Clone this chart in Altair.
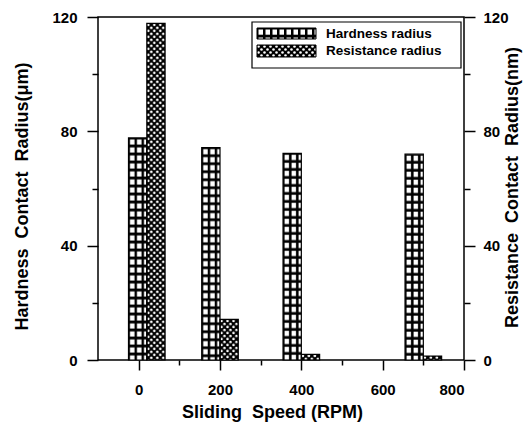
import urllib.parse

import altair as alt
import pandas as pd

# Sliding speeds (RPM) and the two contact radii measured at each speed
SPEEDS = [20, 200, 400, 700]
HARDNESS = [77.7, 74.3, 72.3, 72.0]      # Hardness contact radius (um)
RESISTANCE = [117.8, 14.2, 2.0, 1.4]     # Resistance contact radius (nm)
SERIES = ["Hardness radius", "Resistance radius"]

X_TICKS = [0, 200, 400, 600, 800]
X_MINOR = [100, 300, 500, 700]
Y_TICKS = [0, 40, 80, 120]
Y_MINOR = [20, 60, 100]

BAR_W = 45          # bar width in RPM
FONT = "Liberation Sans"
GAP = " \u00a0"     # wide word gap that SVG does not collapse


def pattern_url(tile_w, tile_h, body):
    """SVG tile pattern wrapped as a data URL, used to hatch the bars."""
    svg = (
        '<svg xmlns="http://www.w3.org/2000/svg" width="100%" height="100%">'
        f'<defs><pattern id="p" x="0" y="0" width="{tile_w}" height="{tile_h}" '
        f'patternUnits="userSpaceOnUse">{body}</pattern></defs>'
        '<rect width="100%" height="100%" fill="url(#p)"/></svg>'
    )
    return "data:image/svg+xml;charset=utf-8," + urllib.parse.quote(svg)


GRID = pattern_url(
    7, 8,
    '<rect width="7" height="8" fill="black"/>'
    '<rect x="1.5" y="1.5" width="4.5" height="5.2" fill="white"/>',
)
CROSS = pattern_url(
    6, 6,
    '<rect width="6" height="6" fill="black"/>'
    '<circle cx="1.5" cy="1.5" r="1.3" fill="white"/>'
    '<circle cx="4.5" cy="4.5" r="1.3" fill="white"/>',
)

df = pd.DataFrame({"speed": SPEEDS, "hardness": HARDNESS, "resistance": RESISTANCE})

x_scale = alt.Scale(domain=[-100, 800], nice=False, zero=False)
y_scale = alt.Scale(domain=[0, 120], nice=False)

label_style = dict(labelFont=FONT, labelFontSize=15, labelFontWeight="bold",
                   labelColor="black", tickColor="black", tickWidth=1.5,
                   domain=False, grid=False)
title_style = dict(titleFont=FONT, titleFontSize=18, titleFontWeight="bold",
                   titleColor="black")

x_major = alt.Axis(orient="bottom", values=X_TICKS, tickSize=10, labelPadding=12,
                   title=f"Sliding{GAP}Speed (RPM)", titleX=174, titleY=57,
                   titleBaseline="alphabetic", titleAlign="center",
                   **label_style, **title_style)
x_minor = alt.Axis(orient="bottom", values=X_MINOR, tickSize=5, labels=False,
                   title=None, **label_style)
y_left = alt.Axis(orient="left", values=Y_TICKS, tickSize=11, labelPadding=10,
                  title=f"Hardness{GAP}Contact{GAP}Radius(\u03bcm)", titleAngle=270,
                  titleX=-76, titleY=179, titleAlign="center", titleBaseline="middle",
                  **label_style, **title_style)
y_left_minor = alt.Axis(orient="left", values=Y_MINOR, tickSize=6, labels=False,
                        title=None, **label_style)
y_right = alt.Axis(orient="right", values=Y_TICKS, tickSize=11, labelPadding=8,
                   title=f"Resistance{GAP}Contact{GAP}Radius(nm)", titleAngle=270,
                   titleX=48, titleY=170, titleAlign="center", titleBaseline="middle",
                   **label_style, **title_style)
y_right_minor = alt.Axis(orient="right", values=Y_MINOR, tickSize=6, labels=False,
                         title=None, **label_style)

base = alt.Chart(df).transform_calculate(
    h_left=f"datum.speed - {BAR_W}",
    r_right=f"datum.speed + {BAR_W}",
)

# Hardness bars: left of each speed, left axis
hard_fill = base.mark_image(aspect=False).encode(
    x=alt.X("h_left:Q", scale=x_scale, axis=x_major),
    x2="speed:Q",
    y=alt.Y("hardness:Q", scale=y_scale, axis=y_left),
    y2=alt.datum(0),
    url=alt.value(GRID),
)
hard_edge = base.mark_bar(fillOpacity=0, stroke="black", strokeWidth=1.2).encode(
    x=alt.X("h_left:Q", scale=x_scale, axis=None),
    x2="speed:Q",
    y=alt.Y("hardness:Q", scale=y_scale, axis=None),
    y2=alt.datum(0),
)

# Resistance bars: right of each speed, right axis
res_fill = base.mark_image(aspect=False).encode(
    x=alt.X("speed:Q", scale=x_scale, axis=x_minor),
    x2="r_right:Q",
    y=alt.Y("resistance:Q", scale=y_scale, axis=y_right),
    y2=alt.datum(0),
    url=alt.value(CROSS),
)
res_edge = base.mark_bar(fillOpacity=0, stroke="black", strokeWidth=1.2).encode(
    x=alt.X("speed:Q", scale=x_scale, axis=None),
    x2="r_right:Q",
    y=alt.Y("resistance:Q", scale=y_scale, axis=None),
    y2=alt.datum(0),
)

# Invisible layers carrying the minor ticks on both y axes
minor_left = base.mark_point(opacity=0).encode(
    x=alt.X("speed:Q", scale=x_scale, axis=None),
    y=alt.Y("hardness:Q", scale=y_scale, axis=y_left_minor),
)
minor_right = base.mark_point(opacity=0).encode(
    x=alt.X("speed:Q", scale=x_scale, axis=None),
    y=alt.Y("resistance:Q", scale=y_scale, axis=y_right_minor),
)

# Legend box in the upper right of the plot
legend_df = pd.DataFrame({"series": SERIES})
legend_box = alt.Chart(legend_df.head(1)).mark_rect(
    fill="white", stroke="black", strokeWidth=1.2
).encode(x=alt.value(154), x2=alt.value(363), y=alt.value(5), y2=alt.value(51))


def legend_entry(i, url, top, bottom):
    row = alt.Chart(legend_df.iloc[[i]])
    swatch = row.mark_image(aspect=False).encode(
        x=alt.value(159), x2=alt.value(218), y=alt.value(top), y2=alt.value(bottom),
        url=alt.value(url),
    )
    edge = row.mark_rect(fillOpacity=0, stroke="black", strokeWidth=1).encode(
        x=alt.value(159), x2=alt.value(218), y=alt.value(top), y2=alt.value(bottom),
    )
    label = row.mark_text(
        font=FONT, fontSize=13.5, fontWeight="bold", color="black",
        align="left", baseline="middle",
    ).encode(x=alt.value(228), y=alt.value((top + bottom) / 2), text="series:N")
    return swatch + edge + label


chart = alt.layer(
    hard_fill, res_fill, hard_edge, res_edge, minor_left, minor_right,
    legend_box,
    legend_entry(0, GRID, 11, 22),
    legend_entry(1, CROSS, 28, 40),
).resolve_scale(
    x="shared", y="shared"
).resolve_axis(
    x="independent", y="independent"
).properties(
    width=366, height=343,
    autosize=alt.AutoSizeParams(type="none"),
    padding={"left": 98, "top": 17, "right": 65, "bottom": 62},
    background="white",
).configure_view(
    stroke="black", strokeWidth=1.5
)

chart.save("out.html", embed_options={"renderer": "svg", "actions": False})
